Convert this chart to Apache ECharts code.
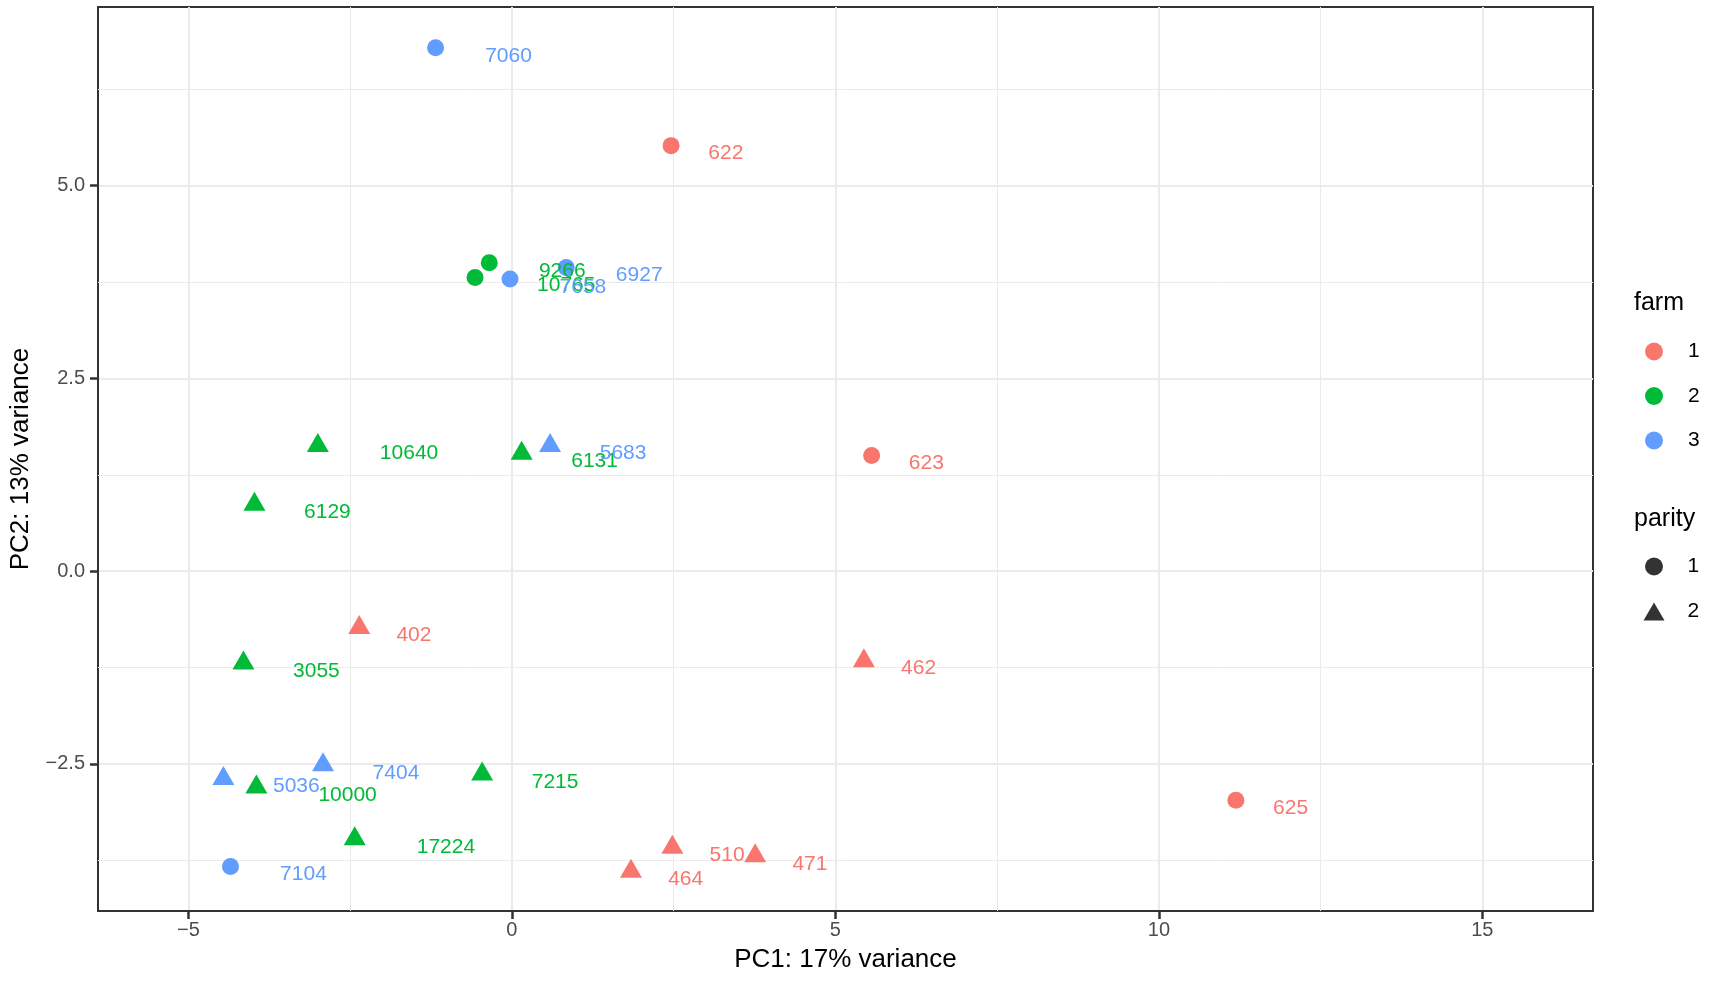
<!DOCTYPE html>
<html>
<head>
<meta charset="utf-8">
<title>PCA</title>
<script src="https://cdn.jsdelivr.net/npm/echarts@6/dist/echarts.min.js"></script>
<style>
  html, body { margin: 0; padding: 0; background: #fff; }
  #main { width: 1712px; height: 984px; }
</style>
</head>
<body>
<div id="main"></div>
<script>
// sample data
var sampleIds = ['622', '623', '625', '402', '462', '464', '510', '471',
	'9266', '10765', '10640', '6131', '6129', '3055', '10000', '7215', '17224',
	'7060', '6927', '7658', '5683', '5036', '7404', '7104'];
var pc1 = [2.46, 5.56, 11.19, -2.36, 5.44, 1.84, 2.48, 3.76,
	-0.35, -0.57, -3.00, 0.15, -3.98, -4.15, -3.95, -0.46, -2.43,
	-1.18, 0.84, -0.03, 0.59, -4.46, -2.92, -4.35];
var pc2 = [5.52, 1.50, -2.97, -0.73, -1.16, -3.89, -3.58, -3.69,
	4.00, 3.81, 1.63, 1.53, 0.87, -1.19, -2.80, -2.63, -3.47,
	6.79, 3.94, 3.79, 1.63, -2.69, -2.51, -3.83];
var farm = [1, 1, 1, 1, 1, 1, 1, 1,
	2, 2, 2, 2, 2, 2, 2, 2, 2,
	3, 3, 3, 3, 3, 3, 3];
var parity = [1, 1, 1, 2, 2, 2, 2, 2,
	1, 1, 2, 2, 2, 2, 2, 2, 2,
	1, 1, 1, 2, 2, 2, 1];

var farmLevels = [1, 2, 3];
var parityLevels = [1, 2];
var farmColors = ['#F8766D', '#00BA38', '#619CFF'];

var xTicks = [-5, 0, 5, 10, 15];
var yTicks = [-2.5, 0, 2.5, 5];
var xMinor = [-2.5, 2.5, 7.5, 12.5];
var yMinor = [-3.75, -1.25, 1.25, 3.75, 6.25];

var fontFamily = "'Liberation Sans', Arial, sans-serif";

function minus(s) {
	return s.replace('-', '\u2212');
}

function montarPontos(nivelFarm) {
	var pontos = [];
	for (var i = 0; i < sampleIds.length; i++) {
		if (farm[i] != nivelFarm) continue;
		var tri = parity[i] == 2;
		pontos.push({
			value: [pc1[i], pc2[i]],
			name: sampleIds[i],
			symbol: tri ? 'triangle' : 'circle',
			symbolSize: tri ? [22, 19] : 17,
			symbolOffset: tri ? [0, -3] : [0, 0],
			label: {
				offset: [12.4 * sampleIds[i].length, tri ? 11 : 8]
			}
		});
	}
	return pontos;
}

var series = [];

// minor grid lines, kept under the points
series.push({
	type: 'scatter',
	name: 'grade',
	data: [],
	z: 1,
	silent: true,
	markLine: {
		z: 1,
		silent: true,
		symbol: 'none',
		label: { show: false },
		lineStyle: { color: '#EBEBEB', width: 1, type: 'solid' },
		data: xMinor.map(function(v) { return { xAxis: v }; })
			.concat(yMinor.map(function(v) { return { yAxis: v }; }))
	}
});

farmLevels.forEach(function(f, k) {
	series.push({
		type: 'scatter',
		name: 'farm' + f,
		z: 3,
		data: montarPontos(f),
		itemStyle: { color: farmColors[k], opacity: 1 },
		label: {
			show: true,
			position: 'inside',
			align: 'left',
			verticalAlign: 'middle',
			formatter: '{b}',
			color: farmColors[k],
			fontSize: 21,
			fontFamily: fontFamily
		},
		emphasis: { disabled: true }
	});
});

parityLevels.forEach(function(p) {
	series.push({
		type: 'scatter',
		name: 'parity' + p,
		data: [],
		symbol: p == 1 ? 'circle' : 'triangle',
		itemStyle: { color: '#000' }
	});
});

var myChart = echarts.init(document.getElementById('main'), null, { renderer: 'canvas' });

var linhaEixo = { show: true, onZero: false, lineStyle: { color: '#333333', width: 2 } };
var tracoEixo = { color: '#333333', width: 2.5 };

var option = {
	animation: false,
	backgroundColor: '#fff',
	textStyle: { fontFamily: fontFamily },
	grid: {
		left: 96,
		right: 119,
		top: 7,
		bottom: 73,
		show: true,
		borderColor: '#333333',
		borderWidth: 2,
		backgroundColor: 'transparent'
	},
	xAxis: {
		type: 'value',
		min: -6.398,
		max: 16.71,
		name: 'PC1: 17% variance',
		nameLocation: 'middle',
		nameGap: 36,
		nameTextStyle: { fontSize: 26, color: '#000', fontFamily: fontFamily },
		axisLine: linhaEixo,
		axisTick: {
			show: true,
			customValues: xTicks,
			length: 8,
			lineStyle: tracoEixo
		},
		axisLabel: {
			customValues: xTicks,
			margin: 9,
			fontSize: 20,
			color: '#4D4D4D',
			fontFamily: fontFamily,
			formatter: function(v) { return minus(String(v)); }
		},
		splitLine: { show: true, lineStyle: { color: '#EBEBEB', width: 2 } }
	},
	yAxis: {
		type: 'value',
		min: -4.407,
		max: 7.318,
		name: 'PC2: 13% variance',
		nameLocation: 'middle',
		nameGap: 64,
		nameRotate: 90,
		nameTextStyle: { fontSize: 26, color: '#000', fontFamily: fontFamily },
		axisLine: linhaEixo,
		axisTick: {
			show: true,
			customValues: yTicks,
			length: 8,
			lineStyle: tracoEixo
		},
		axisLabel: {
			customValues: yTicks,
			margin: 13,
			fontSize: 20,
			color: '#4D4D4D',
			fontFamily: fontFamily,
			formatter: function(v) { return minus(v.toFixed(1)); }
		},
		splitLine: { show: true, lineStyle: { color: '#EBEBEB', width: 2 } }
	},
	legend: [{
		orient: 'vertical',
		left: 1645,
		top: 341,
		padding: 0,
		itemWidth: 18,
		itemHeight: 18,
		itemGap: 23.5,
		selectedMode: false,
		data: farmLevels.map(function(f) { return { name: 'farm' + f, icon: 'circle' }; }),
		formatter: function(name) { return name.replace('farm', ''); },
		textStyle: { fontSize: 21, color: '#000', lineHeight: 18, padding: [0, 0, 0, 20], fontFamily: fontFamily }
	}, {
		orient: 'vertical',
		left: 1643.5,
		top: 556,
		padding: 0,
		itemWidth: 21,
		itemHeight: 18,
		itemGap: 24,
		selectedMode: false,
		data: [{ name: 'parity1', icon: 'circle' }, { name: 'parity2', icon: 'triangle' }],
		formatter: function(name) { return name.replace('parity', ''); },
		textStyle: { fontSize: 21, color: '#000', lineHeight: 18, padding: [0, 0, 0, 18], fontFamily: fontFamily }
	}],
	graphic: [{
		type: 'text',
		left: 1634,
		top: 291,
		style: { text: 'farm', fontSize: 25, fill: '#000', fontFamily: fontFamily }
	}, {
		type: 'text',
		left: 1634,
		top: 507,
		style: { text: 'parity', fontSize: 25, fill: '#000', fontFamily: fontFamily }
	}],
	series: series
};

myChart.setOption(option);
</script>
</body>
</html>
